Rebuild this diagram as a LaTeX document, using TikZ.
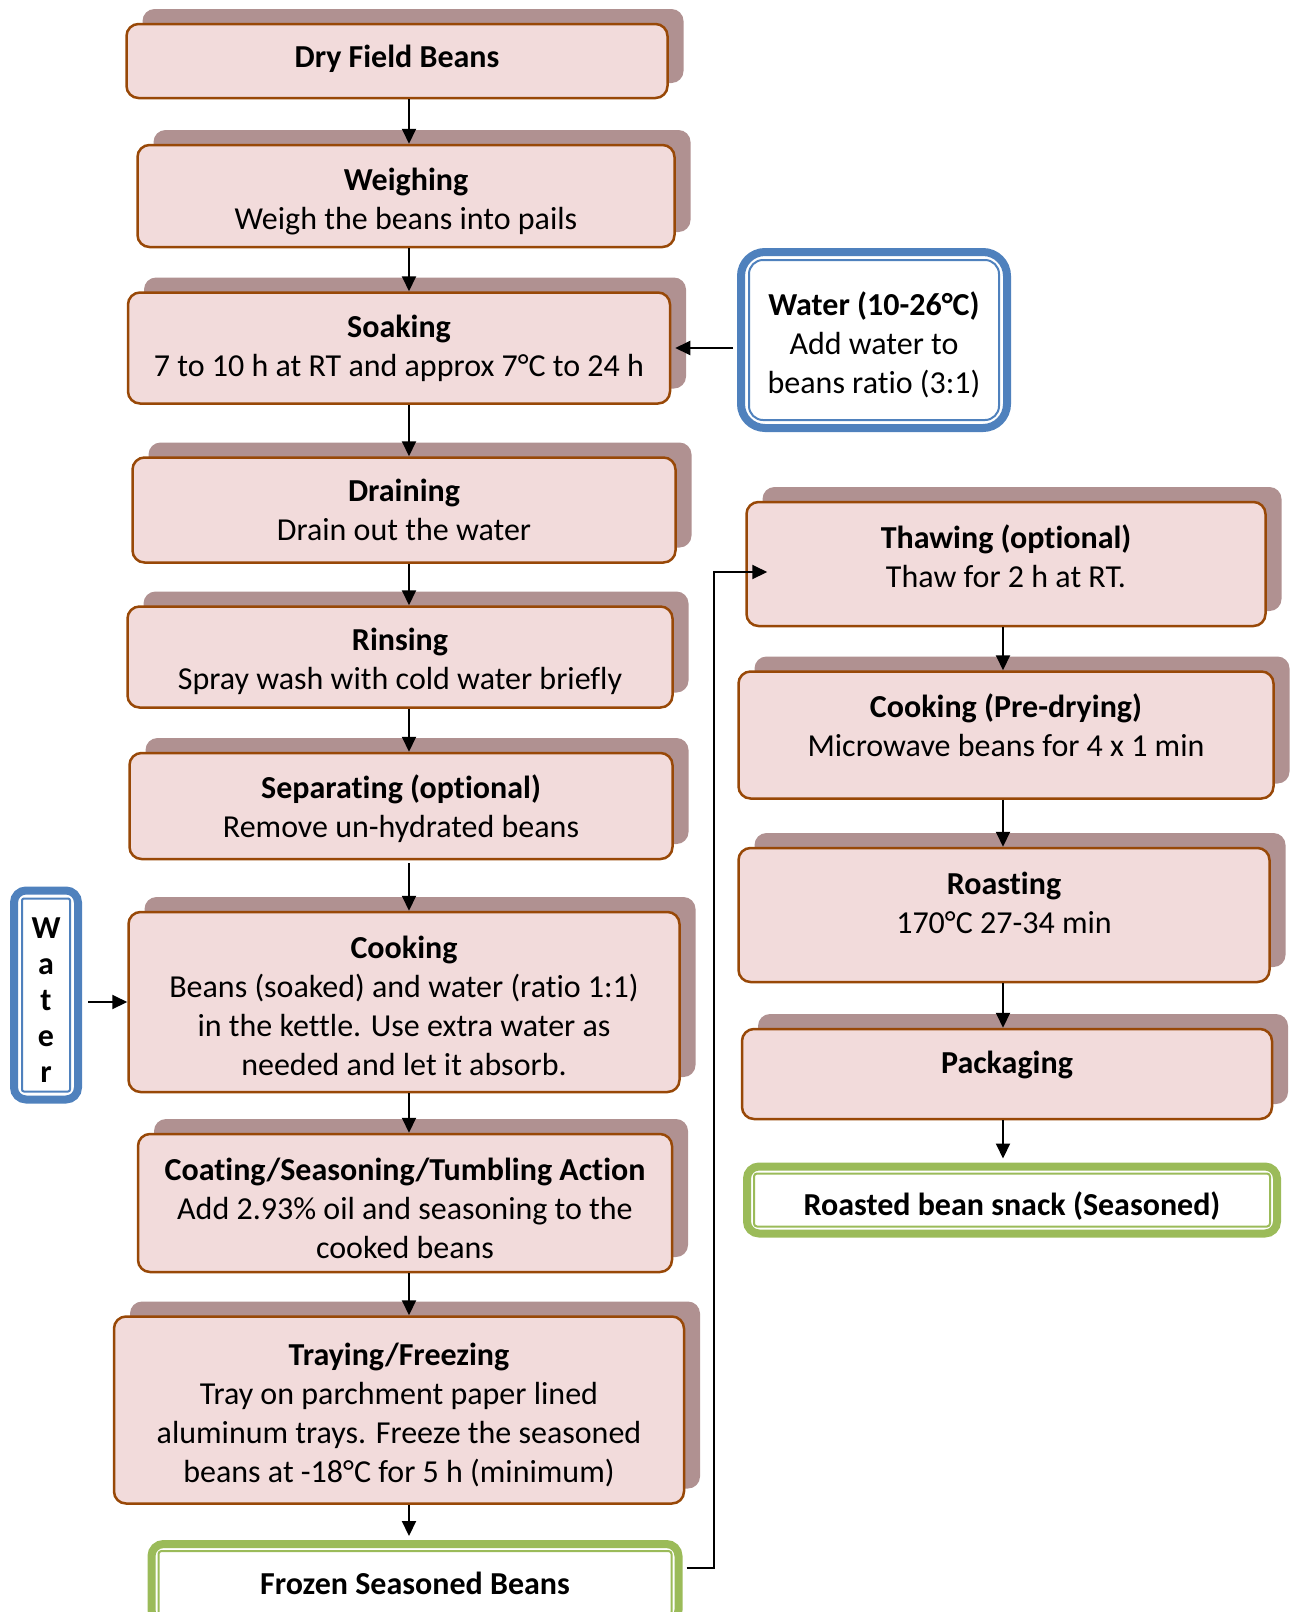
\documentclass[tikz,border=0pt]{standalone}
\usepackage{fontspec}
\setmainfont{Carlito}[Ligatures=NoCommon]
\usetikzlibrary{arrows.meta,shadows}

\definecolor{stepfill}{HTML}{F2DBDB}
\definecolor{stepline}{HTML}{984807}
\definecolor{stepshade}{HTML}{B09191}
\definecolor{waterblue}{HTML}{4F81BD}
\definecolor{endgreen}{HTML}{9BBB59}

\newcommand\toppad[1]{\rule{0pt}{#1}}

\tikzset{
  stepbox/.style={draw=stepline, line width=2.5pt, fill=stepfill, rounded corners=12pt,
    align=center, inner sep=0pt,
    general shadow={fill=stepshade, shadow xshift=16pt, shadow yshift=15pt}},
  waterframe/.style={draw=waterblue, line width=8pt, fill=white, rounded corners=#1,
    align=center, inner sep=0pt,
    path picture={\draw[waterblue, line width=2pt, rounded corners=#1-10pt]
      ([shift={(8pt,8pt)}]path picture bounding box.south west) rectangle ([shift={(-8pt,-8pt)}]path picture bounding box.north east);}},
  endframe/.style={draw=endgreen, line width=8pt, fill=white, rounded corners=12pt,
    align=center, inner sep=0pt,
    path picture={\draw[endgreen, line width=2pt, rounded corners=3pt]
      ([shift={(7pt,7pt)}]path picture bounding box.south west) rectangle ([shift={(-7pt,-7pt)}]path picture bounding box.north east);}},
  lift/.style={execute at end node={\rule[-#1]{0pt}{#1}}},
  flow/.style={line width=2pt, -{Triangle[length=15pt,width=14pt]}}
}

\begin{document}
\begin{tikzpicture}[x=1pt,y=-1pt,font=\fontsize{32}{39}\selectfont]
  \useasboundingbox (0,0) rectangle (1291,1612);

  \node[stepbox, minimum width=541pt, minimum height=74pt, lift=10pt] (dry) at (397,61) {\textbf{Dry Field Beans}};
  \node[stepbox, minimum width=537pt, minimum height=102pt] (weigh) at (406,196) {\toppad{33pt}\textbf{Weighing}\\Weigh the beans into pails};
  \node[stepbox, minimum width=542pt, minimum height=111pt] (soak) at (399,348) {\textbf{Soaking}\\7 to 10 h at RT and approx 7°C to 24 h};
  \node[stepbox, minimum width=543pt, minimum height=105pt] (drain) at (404,510) {\textbf{Draining}\\Drain out the water};
  \node[stepbox, minimum width=545pt, minimum height=101pt] (rinse) at (400,657) {\toppad{31pt}\textbf{Rinsing}\\Spray wash with cold water briefly};
  \node[stepbox, minimum width=543pt, minimum height=106pt] (sep) at (401,806) {\toppad{30pt}\textbf{Separating (optional)}\\Remove un-hydrated beans};
  \node[stepbox, minimum width=551pt, minimum height=180pt] (cook) at (404,1002) {\toppad{31pt}\textbf{Cooking}\\Beans (soaked) and water (ratio 1:1)\\in the kettle. Use extra water as\\needed and let it absorb.};
  \node[stepbox, minimum width=534pt, minimum height=138pt] (coat) at (405,1203) {\toppad{34pt}\textbf{Coating/Seasoning/Tumbling Action}\\Add 2.93\% oil and seasoning to the\\cooked beans};
  \node[stepbox, minimum width=570pt, minimum height=187pt] (tray) at (399,1410) {\toppad{32pt}\textbf{Traying/Freezing}\\Tray on parchment paper lined\\aluminum trays. Freeze the seasoned\\beans at -18°C for 5 h (minimum)};
  \node[endframe, minimum width=527pt, minimum height=78pt] (frozen) at (415,1583) {\textbf{Frozen Seasoned Beans}};

  \node[waterframe=24pt, minimum width=266pt, minimum height=176pt] (water) at (874,340) {\toppad{34pt}\textbf{Water (10-26°C)}\\Add water to\\beans ratio (3:1)};
  \node[waterframe=12pt, minimum width=64pt, minimum height=209pt, font=\fontsize{32}{36}\selectfont\bfseries] (wleft) at (46,995) {\toppad{31pt}W\\a\\t\\e\\r};

  \node[stepbox, minimum width=519pt, minimum height=124pt, lift=16pt] (thaw) at (1006,564) {\textbf{Thawing (optional)}\\Thaw for 2 h at RT.};
  \node[stepbox, minimum width=535pt, minimum height=127pt, lift=20pt] (predry) at (1006,735) {\textbf{Cooking (Pre-drying)}\\Microwave beans for 4 x 1 min};
  \node[stepbox, minimum width=531pt, minimum height=134pt, lift=24pt] (roast) at (1004,915) {\textbf{Roasting}\\170°C 27-34 min};
  \node[stepbox, minimum width=530pt, minimum height=90pt, lift=23pt] (pack) at (1007,1074) {\textbf{Packaging}};
  \node[endframe, minimum width=530pt, minimum height=67pt] (snack) at (1012,1200) {\toppad{36pt}\textbf{Roasted bean snack (Seasoned)}};

  \coordinate (lspine) at (409,0);
  \coordinate (rspine) at (1003,0);

  \draw[flow] (dry.south -| lspine) -- (weigh.north -| lspine);
  \draw[flow] (weigh.south -| lspine) -- (soak.north -| lspine);
  \draw[flow] (soak.south -| lspine) -- (drain.north -| lspine);
  \draw[flow] (drain.south -| lspine) -- (rinse.north -| lspine);
  \draw[flow] (rinse.south -| lspine) -- (sep.north -| lspine);
  \draw[flow] ([yshift=-3pt]sep.south -| lspine) -- (cook.north -| lspine);
  \draw[flow] (cook.south -| lspine) -- (coat.north -| lspine);
  \draw[flow] (coat.south -| lspine) -- (tray.north -| lspine);
  \draw[flow] (tray.south -| lspine) -- ([yshift=4pt]frozen.north -| lspine);

  \draw[flow] ([xshift=-4pt]water.west |- soak.east) -- ([xshift=4pt]soak.east);
  \draw[flow] ([xshift=6pt]wleft.east |- cook.west) -- (cook.west);
  \draw[flow] ([xshift=4pt,yshift=15pt]frozen.east) -- ++(27,0) |- ([xshift=22pt,yshift=-8pt]thaw.west);

  \draw[flow] (thaw.south -| rspine) -- (predry.north -| rspine);
  \draw[flow] (predry.south -| rspine) -- (roast.north -| rspine);
  \draw[flow] (roast.south -| rspine) -- (pack.north -| rspine);
  \draw[flow] (pack.south -| rspine) -- ([yshift=4pt]snack.north -| rspine);
\end{tikzpicture}
\end{document}
